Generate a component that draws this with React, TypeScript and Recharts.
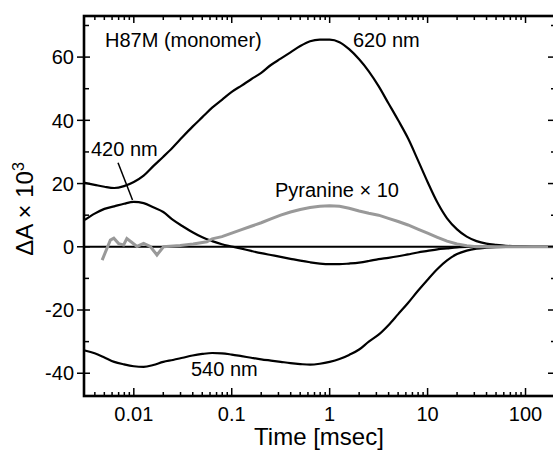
import { LineChart, Line, XAxis, YAxis, ReferenceLine } from 'recharts';

const FONT = '"Liberation Sans", Arial, sans-serif';

// time grid in msec, 10 points per decade
const TIME = [
  0.00316, 0.00398, 0.00501, 0.00631, 0.00794, 0.01, 0.0126, 0.0158, 0.02, 0.0251,
  0.0316, 0.0398, 0.0501, 0.0631, 0.0794, 0.1, 0.126, 0.158, 0.2, 0.251,
  0.316, 0.398, 0.501, 0.631, 0.794, 1, 1.26, 1.58, 2, 2.51,
  3.16, 3.98, 5.01, 6.31, 7.94, 10, 12.6, 15.8, 20, 25.1,
  31.6, 39.8, 50.1, 63.1, 79.4, 100, 126, 158, 200,
];

const NM620 = [
  20.2, 19.6, 19.0, 18.6, 19.2, 20.5, 22.5, 25.5, 28.5, 31.5,
  34.8, 38, 41, 44, 46.5, 49, 51, 53, 55, 57.5,
  59.5, 61.5, 63.5, 65, 65.5, 65.5, 64.7, 62.5, 59.3, 55.5,
  50.8, 45.4, 40, 34.3, 27.5, 20.5, 14, 9, 5.5, 3.2,
  1.8, 1, 0.6, 0.3, 0.2, 0.1, 0, 0, 0,
];

const NM420 = [
  8.5, 10.5, 12, 12.8, 13.6, 14.2, 13.8, 12.5, 11, 8.5,
  6.5, 4.6, 3, 1.8, 0.8, 0.1, -0.6, -1.3, -2, -2.6,
  -3.2, -3.8, -4.4, -4.9, -5.3, -5.5, -5.5, -5.3, -5, -4.5,
  -3.9, -3.5, -3, -2.4, -1.8, -1.3, -0.8, -0.5, -0.2, 0,
  0, 0, 0, 0, 0, 0, 0, 0, 0,
];

const NM540 = [
  -32.8, -33.7, -35, -36.4, -37.2, -37.8, -38, -37.4, -36.4, -35.8,
  -35.1, -34.4, -33.9, -33.6, -33.7, -34.1, -34.6, -35.1, -35.6, -36,
  -36.4, -36.8, -37.1, -37.3, -37, -36.4, -35.5, -34.2, -32.5, -30,
  -27.8, -24.8, -21.3, -17.8, -14, -10.4, -7, -4.3, -2.3, -1.2,
  -0.6, -0.3, -0.1, 0, 0, 0, 0, 0, 0,
];

// pyranine x 10 (finer sampling at early times, where it is noisy)
const PYR_TIME = [
  0.00475, 0.00576, 0.00625, 0.007, 0.00787, 0.00849, 0.00943, 0.01078, 0.01259, 0.01473,
  0.01723, 0.0201, 0.0298, 0.0404, 0.0557, 0.0631, 0.0794, 0.1, 0.126, 0.158,
  0.2, 0.251, 0.316, 0.398, 0.501, 0.631, 0.794, 1, 1.26, 1.58,
  2, 2.51, 3.16, 3.98, 5.01, 6.31, 7.94, 10, 12.6, 15.8,
  20, 25.1, 31.6, 39.8, 50.1, 63.1, 79.4, 100, 126, 158, 200,
];
const PYRANINE = [
  -4.2, 2.1, 2.7, 1, 0.6, 2.6, 1.5, 0.1, 1.1, 0.1,
  -2.6, 0, 0.4, 0.9, 1.6, 2.5, 3.2, 4.3, 5.4, 6.5,
  7.6, 8.8, 10, 11, 11.8, 12.4, 12.8, 13, 12.8, 12.2,
  11.3, 10.6, 10, 9, 8, 6.9, 5.6, 4.3, 3, 1.8,
  0.9, 0.3, 0, 0, 0, 0, 0, 0, 0, 0, 0,
];

const X_DOMAIN = [0.0031, 200];
const Y_DOMAIN = [-47.2, 73];
const DECADES = [0.001, 0.01, 0.1, 1, 10, 100];
const Y_TICKS = [-40, -30, -20, -10, 0, 10, 20, 30, 40, 50, 60, 70];

const X_TICKS = DECADES.flatMap((d) => [1, 2, 3, 4, 5, 6, 7, 8, 9].map((m) => d * m)).filter(
  (v) => v > X_DOMAIN[0] && v < X_DOMAIN[1]
);

// layout
const CHART_W = 560;
const CHART_H = 454;
const MARGIN = { top: 16, right: 5, bottom: 0, left: 0 };
const Y_AXIS_W = 84;
const X_AXIS_H = 58;
const PLOT_W = CHART_W - MARGIN.left - MARGIN.right - Y_AXIS_W;
const PLOT_H = CHART_H - MARGIN.top - MARGIN.bottom - X_AXIS_H;

const data = TIME.map((t, i) => ({
  t,
  nm620: NM620[i],
  nm420: NM420[i],
  nm540: NM540[i],
}));
const pyrData = PYR_TIME.map((t, i) => ({ t, pyr: PYRANINE[i] }));

const isDecade = (v: number) => Math.abs(Math.log10(v) - Math.round(Math.log10(v))) < 1e-6;
const isMajorY = (v: number) => v % 20 === 0;

// bottom tick also draws the matching tick on the top frame edge
const BottomTick = (p: any) => {
  const v = p.payload.value;
  const major = isDecade(v);
  const top = p.y - PLOT_H;
  return (
    <g>
      <line x1={p.x} x2={p.x} y1={p.y} y2={p.y - (major ? 8 : 4)} stroke="#000" strokeWidth={1.5} />
      <line x1={p.x} x2={p.x} y1={top} y2={top + (major ? 7 : 4)} stroke="#000" strokeWidth={1.5} />
      {major && (
        <text x={p.x} y={p.y + 25} textAnchor="middle" fontSize={20} fontFamily={FONT} fill="#000">
          {String(v)}
        </text>
      )}
    </g>
  );
};

// left tick also draws the matching tick on the right frame edge
const LeftTick = (p: any) => {
  const v = p.payload.value;
  const major = isMajorY(v);
  const right = p.x + PLOT_W;
  return (
    <g>
      <line x1={major ? p.x - 7 : p.x} x2={p.x + (major ? 6 : 5)} y1={p.y} y2={p.y} stroke="#000" strokeWidth={1.5} />
      <line x1={right} x2={right - (major ? 7 : 4)} y1={p.y} y2={p.y} stroke="#000" strokeWidth={1.5} />
      {major && (
        <text x={p.x - 10} y={p.y} dy="0.36em" textAnchor="end" fontSize={20} fontFamily={FONT} fill="#000">
          {String(v)}
        </text>
      )}
    </g>
  );
};

const lineProps = { type: 'monotone' as const, stroke: '#000', strokeWidth: 2.2, dot: false, isAnimationActive: false };

export default function App() {
  return (
    <div
      style={{
        position: 'absolute',
        left: 0,
        top: 0,
        width: 553,
        height: 454,
        overflow: 'hidden',
        background: '#fff',
      }}
    >
      <LineChart width={CHART_W} height={CHART_H} data={data} margin={MARGIN}>
        <XAxis
          dataKey="t"
          type="number"
          scale="log"
          domain={X_DOMAIN}
          ticks={X_TICKS}
          interval={0}
          tick={BottomTick}
          tickLine={false}
          tickSize={0}
          tickMargin={0}
          height={X_AXIS_H}
          axisLine={false}
        />
        <YAxis
          type="number"
          domain={Y_DOMAIN}
          ticks={Y_TICKS}
          interval={0}
          tick={LeftTick}
          tickLine={false}
          tickSize={0}
          tickMargin={0}
          width={Y_AXIS_W}
          axisLine={false}
        />
        <ReferenceLine y={0} stroke="#000" strokeWidth={2} />
        <ReferenceLine
          segment={[
            { x: 0.0069, y: 26.6 },
            { x: 0.0097, y: 14.8 },
          ]}
          stroke="#000"
          strokeWidth={1.5}
        />
        <Line dataKey="nm620" {...lineProps} />
        <Line dataKey="nm420" {...lineProps} />
        <Line dataKey="nm540" {...lineProps} />
        <Line
          data={pyrData}
          dataKey="pyr"
          type="linear"
          stroke="#999"
          strokeWidth={3}
          dot={false}
          isAnimationActive={false}
        />
      </LineChart>
      <svg
        width={553}
        height={454}
        style={{ position: 'absolute', left: 0, top: 0, pointerEvents: 'none' }}
        fontFamily={FONT}
        fill="#000"
      >
        {/* plot frame */}
        <rect
          x={MARGIN.left + Y_AXIS_W}
          y={MARGIN.top}
          width={PLOT_W}
          height={PLOT_H}
          fill="none"
          stroke="#000"
          strokeWidth={2.6}
        />
        <text x={105} y={47} fontSize={20}>H87M (monomer)</text>
        <text x={353} y={47} fontSize={20}>620 nm</text>
        <text x={91} y={156} fontSize={20}>420 nm</text>
        <text x={275} y={197} fontSize={20}>Pyranine × 10</text>
        <text x={191} y={376} fontSize={20}>540 nm</text>
        <text x={319} y={445} fontSize={24} textAnchor="middle">Time [msec]</text>
        <text x={33} y={209} fontSize={24} textAnchor="middle" transform="rotate(-90 33 209)">
          ΔA × 10<tspan dy={-9} fontSize={16}>3</tspan>
        </text>
      </svg>
    </div>
  );
}
